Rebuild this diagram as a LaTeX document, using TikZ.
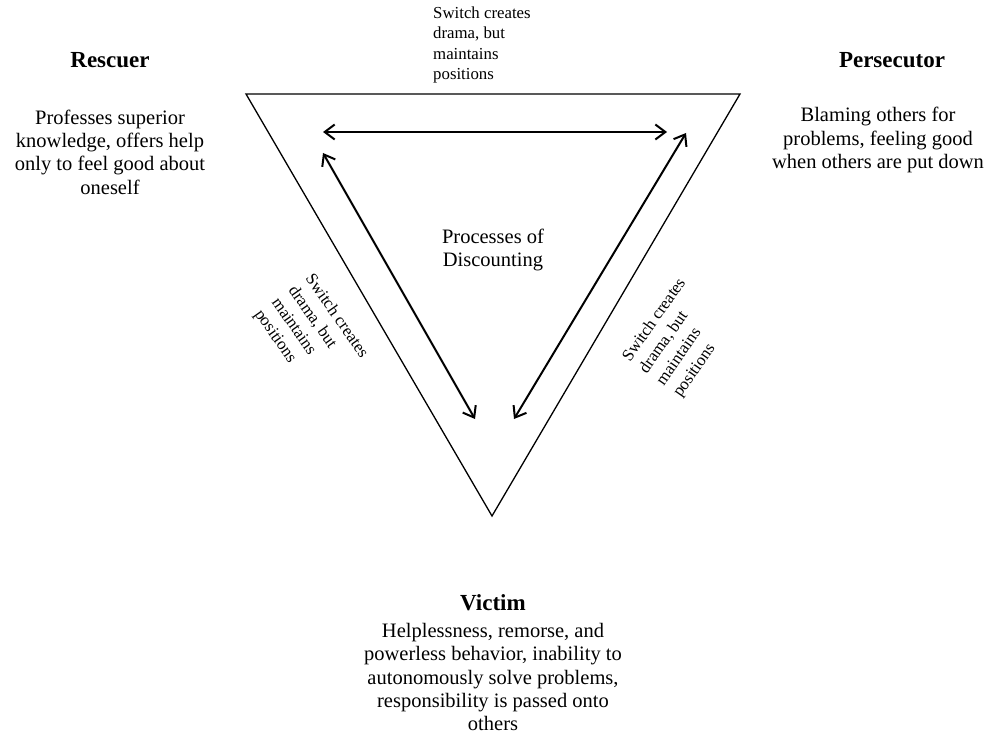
\documentclass[tikz,border=0pt]{standalone}
\usepackage{fontspec}
\setmainfont{Liberation Serif}
\usetikzlibrary{arrows.meta}

\begin{document}
\begin{tikzpicture}[
  x=1pt, y=-1pt,
  role/.style={font=\fontsize{23}{27}\selectfont\bfseries, inner sep=0pt},
  desc/.style={font=\fontsize{20.5}{23.4}\selectfont, align=center, inner sep=0pt},
  note/.style={font=\fontsize{16.8}{20.6}\selectfont, align=left, inner sep=0pt},
  edge/.style={line width=1.3pt, line join=miter},
  arrow/.style={{Straight Barb[length=10pt,width=15pt]}-{Straight Barb[length=10pt,width=15pt]},
    line width=2pt}
]
\useasboundingbox (0,0) rectangle (1003,743);

\coordinate (rescuerCorner) at (246,94);
\coordinate (persecutorCorner) at (740,94);
\coordinate (victimCorner) at (492,516);
\draw[edge] (rescuerCorner) -- (persecutorCorner) -- (victimCorner) -- cycle;

\node[role] (rescuer) at (110,60) {Rescuer};
\node[desc] (rescuerText) at (110,152)
  {Professes superior\\knowledge, offers help\\only to feel good about\\oneself};
\node[role] (persecutor) at (892,60) {Persecutor};
\node[desc] (persecutorText) at (878,140)
  {Blaming others for\\problems, feeling good\\when others are put down};
\node[role] (victim) at (493,603) {Victim};
\node[desc] (victimText) at (493,677)
  {Helplessness, remorse, and\\powerless behavior, inability to\\autonomously solve problems,\\responsibility is passed onto\\others};

\node[desc] (discount) at (493,250) {Processes of\\Discounting};

\node[note, anchor=west] (topNote) at (433,45)
  {Switch creates\\drama, but\\maintains\\positions};
\node[note, rotate=-55] (leftNote) at (311,334)
  {Switch creates\\drama, but\\maintains\\positions};
\node[note, rotate=55] (rightNote) at (680,338)
  {Switch creates\\drama, but\\maintains\\positions};

\coordinate (topL) at (323,132);
\coordinate (topR) at (667,132);
\coordinate (leftT) at (323,153);
\coordinate (leftB) at (475,419);
\coordinate (rightT) at (686,133);
\coordinate (rightB) at (514,419);

\foreach \a/\b in {topL/topR,leftT/leftB,rightT/rightB}
  \draw[arrow] (\a) -- (\b);
\end{tikzpicture}
\end{document}
